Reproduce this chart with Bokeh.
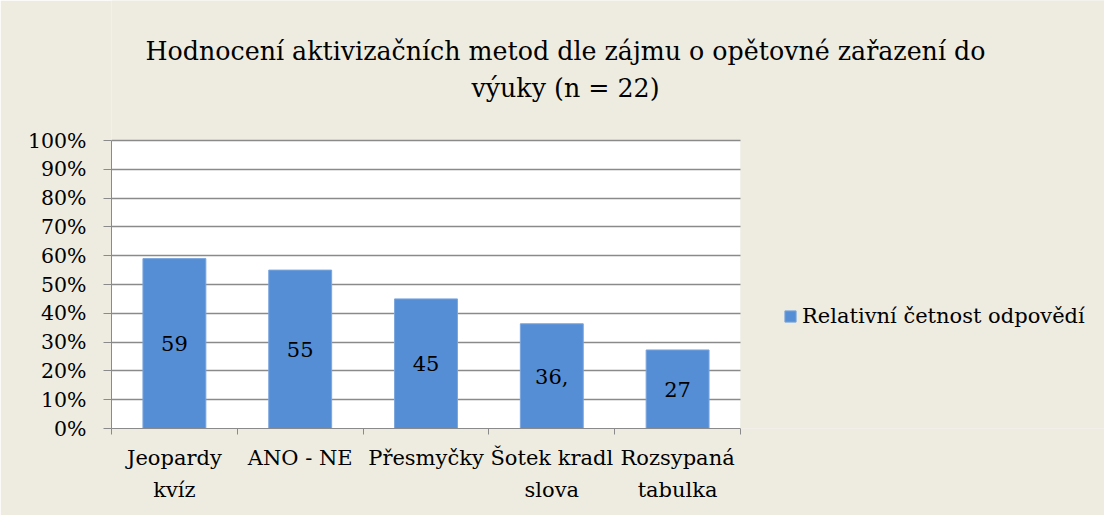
from bokeh.plotting import figure
from bokeh.models import (Range1d, FixedTicker, NumeralTickFormatter, Label,
                          BoxAnnotation, ColumnDataSource)
from bokeh.embed import file_html
from bokeh.resources import INLINE

# ---- data ----
categories = ["Jeopardy\nkvíz", "ANO - NE", "Přesmyčky", "Šotek kradl\nslova", "Rozsypaná\ntabulka"]
values = [0.59, 0.55, 0.45, 0.3636, 0.2727]
value_labels = ["59", "55", "45", "36,", "27"]
series_name = "Relativní četnost odpovědí"
title_lines = ["Hodnocení aktivizačních metod dle zájmu o opětovné zařazení do", "výuky (n = 22)"]
y_ticks = [0.0, 0.1, 0.2, 0.3, 0.4, 0.5, 0.6, 0.7, 0.8, 0.9, 1.0]

FONT = "DejaVu Serif"
BEIGE = "#EEECE1"
GRID = "#8A8A8A"
BAR = "#558ED5"

W, H = 1104, 515
LEFT, BOTTOM = 111, 87
PLOT_W, PLOT_H = 629, 288
n = len(categories)
frame_w, frame_h = W - LEFT, H - BOTTOM

xpos = [i + 0.5 for i in range(n)]
src = ColumnDataSource(dict(x=xpos, top=values, mid=[v / 2 for v in values], lab=value_labels))

p = figure(width=W, height=H, output_backend="svg", toolbar_location=None,
           x_range=Range1d(0, n * frame_w / PLOT_W), y_range=Range1d(0, frame_h / PLOT_H),
           min_border_left=LEFT, min_border_right=0, min_border_top=0, min_border_bottom=BOTTOM)
p.background_fill_color = BEIGE
p.border_fill_color = BEIGE
p.outline_line_color = None

# white plot area underneath the grid
p.add_layout(BoxAnnotation(left=0, right=n, bottom=0, top=1, fill_color="white", fill_alpha=1,
                           line_color=None, level="image"))

p.vbar(x="x", top="top", width=0.5, source=src, fill_color=BAR, line_color="#7AA6DE",
       line_width=1, legend_label=series_name)
p.text(x="x", y="mid", text="lab", source=src, text_align="center", text_baseline="middle",
       text_font={"value": FONT}, text_font_size="21px", text_color="black")

ya = p.yaxis[0]
ya.bounds = (0, 1)
ya.ticker = FixedTicker(ticks=y_ticks)
ya.formatter = NumeralTickFormatter(format="0%")
ya.major_label_text_font = FONT
ya.major_label_text_font_size = "20.5px"
ya.major_label_text_color = "black"
ya.axis_line_color = GRID
ya.major_tick_line_color = GRID
ya.major_tick_in = 0
ya.major_tick_out = 8
ya.minor_tick_line_color = None
ya.major_label_standoff = 17

xa = p.xaxis[0]
xa.bounds = (0, n)
xa.ticker = FixedTicker(ticks=xpos, minor_ticks=list(range(n + 1)))
xa.major_label_overrides = {xpos[i]: categories[i] for i in range(n)}
xa.major_label_text_font = FONT
xa.major_label_text_font_size = "21px"
xa.major_label_text_line_height = 1.35
xa.major_label_text_color = "black"
xa.axis_line_color = GRID
xa.major_tick_line_color = None
xa.minor_tick_line_color = GRID
xa.minor_tick_in = 0
xa.minor_tick_out = 6
xa.major_label_standoff = 11

p.xgrid.visible = False
p.ygrid.ticker = FixedTicker(ticks=y_ticks)
p.ygrid.grid_line_color = GRID
p.ygrid.grid_line_width = 1.5

lg = p.legend[0]
p.center.remove(lg)
# hide grid lines to the right of the plot area
p.add_layout(BoxAnnotation(left=n, fill_color=BEIGE, fill_alpha=1, line_color=None))

for text, yy in zip(title_lines, [377, 340]):
    p.add_layout(Label(x=454, y=yy, x_units="screen", y_units="screen", text=text,
                       text_align="center", text_baseline="alphabetic",
                       text_font=FONT, text_font_size="25.3px", text_color="black"))

p.add_layout(lg)
lg.location = (672, 100)
lg.padding = 0
lg.margin = 0
lg.border_line_color = None
lg.background_fill_alpha = 0
lg.glyph_width = 14
lg.glyph_height = 14
lg.label_standoff = 5
lg.label_text_font = FONT
lg.label_text_font_size = "21px"
lg.label_text_color = "black"

open("out.html", "w").write(file_html(p, INLINE))
